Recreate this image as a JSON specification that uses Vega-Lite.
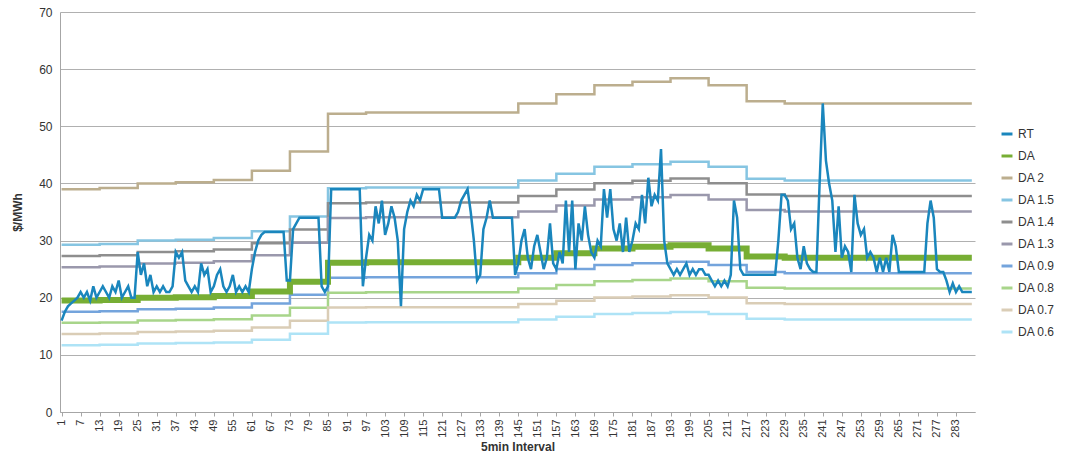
{
  "$schema": "https://vega.github.io/schema/vega-lite/v6.json",
  "width": 915,
  "height": 400,
  "autosize": "none",
  "padding": {"left": 60, "top": 12, "right": 104, "bottom": 55},
  "config": {
    "font": "Liberation Sans",
    "view": {"stroke": null},
    "axis": {"domainColor": "#a6a6a6", "tickColor": "#a6a6a6", "gridColor": "#b0b0b0", "labelColor": "#333", "labelFontSize": 12, "titleFontSize": 12, "titleFontWeight": "bold", "titleColor": "#333"}
  },
  "datasets": {
    "rt": [
      {"x":1,"RT":16},{"x":2,"RT":17.5},{"x":3,"RT":18.5},{"x":4,"RT":19},{"x":5,"RT":19.5},{"x":6,"RT":20},{"x":7,"RT":21},{"x":8,"RT":20},{"x":9,"RT":21},{"x":10,"RT":19.5},{"x":11,"RT":22},{"x":12,"RT":20},
      {"x":13,"RT":21},{"x":14,"RT":22},{"x":15,"RT":21},{"x":16,"RT":20},{"x":17,"RT":22},{"x":18,"RT":21},{"x":19,"RT":23},{"x":20,"RT":20},{"x":21,"RT":21},{"x":22,"RT":22},{"x":23,"RT":20},{"x":24,"RT":20},
      {"x":25,"RT":28},{"x":26,"RT":24},{"x":27,"RT":26},{"x":28,"RT":22},{"x":29,"RT":24},{"x":30,"RT":21},{"x":31,"RT":22},{"x":32,"RT":21},{"x":33,"RT":22},{"x":34,"RT":21},{"x":35,"RT":21},{"x":36,"RT":22},
      {"x":37,"RT":28},{"x":38,"RT":27},{"x":39,"RT":28},{"x":40,"RT":23},{"x":41,"RT":22},{"x":42,"RT":21},{"x":43,"RT":22},{"x":44,"RT":21},{"x":45,"RT":26},{"x":46,"RT":24},{"x":47,"RT":25},{"x":48,"RT":21},
      {"x":49,"RT":22},{"x":50,"RT":24},{"x":51,"RT":25},{"x":52,"RT":22},{"x":53,"RT":21},{"x":54,"RT":22},{"x":55,"RT":24},{"x":56,"RT":21},{"x":57,"RT":22},{"x":58,"RT":21},{"x":59,"RT":22},{"x":60,"RT":21},
      {"x":61,"RT":25},{"x":62,"RT":28},{"x":63,"RT":30},{"x":64,"RT":31},{"x":65,"RT":31.5},{"x":66,"RT":31.5},{"x":67,"RT":31.5},{"x":68,"RT":31.5},{"x":69,"RT":31.5},{"x":70,"RT":31.5},{"x":71,"RT":31.5},{"x":72,"RT":23},
      {"x":73,"RT":23},{"x":74,"RT":32},{"x":75,"RT":33},{"x":76,"RT":34},{"x":77,"RT":34},{"x":78,"RT":34},{"x":79,"RT":34},{"x":80,"RT":34},{"x":81,"RT":34},{"x":82,"RT":34},{"x":83,"RT":22},{"x":84,"RT":21},
      {"x":85,"RT":22},{"x":86,"RT":39},{"x":87,"RT":39},{"x":88,"RT":39},{"x":89,"RT":39},{"x":90,"RT":39},{"x":91,"RT":39},{"x":92,"RT":39},{"x":93,"RT":39},{"x":94,"RT":39},{"x":95,"RT":39},{"x":96,"RT":22},
      {"x":97,"RT":27},{"x":98,"RT":31},{"x":99,"RT":30},{"x":100,"RT":36},{"x":101,"RT":33},{"x":102,"RT":37},{"x":103,"RT":31},{"x":104,"RT":33},{"x":105,"RT":36},{"x":106,"RT":34},{"x":107,"RT":30},{"x":108,"RT":18.5},
      {"x":109,"RT":32},{"x":110,"RT":35},{"x":111,"RT":37},{"x":112,"RT":36},{"x":113,"RT":38},{"x":114,"RT":37},{"x":115,"RT":39},{"x":116,"RT":39},{"x":117,"RT":39},{"x":118,"RT":39},{"x":119,"RT":39},{"x":120,"RT":39},
      {"x":121,"RT":34},{"x":122,"RT":34},{"x":123,"RT":34},{"x":124,"RT":34},{"x":125,"RT":34},{"x":126,"RT":35},{"x":127,"RT":37},{"x":128,"RT":38},{"x":129,"RT":39},{"x":130,"RT":35},{"x":131,"RT":30},{"x":132,"RT":23},
      {"x":133,"RT":24},{"x":134,"RT":32},{"x":135,"RT":34},{"x":136,"RT":37},{"x":137,"RT":34},{"x":138,"RT":34},{"x":139,"RT":34},{"x":140,"RT":34},{"x":141,"RT":34},{"x":142,"RT":34},{"x":143,"RT":34},{"x":144,"RT":24},
      {"x":145,"RT":26},{"x":146,"RT":30},{"x":147,"RT":32},{"x":148,"RT":27},{"x":149,"RT":25},{"x":150,"RT":29},{"x":151,"RT":31},{"x":152,"RT":28},{"x":153,"RT":25},{"x":154,"RT":27},{"x":155,"RT":33},{"x":156,"RT":26},
      {"x":157,"RT":25},{"x":158,"RT":28},{"x":159,"RT":26},{"x":160,"RT":37},{"x":161,"RT":28},{"x":162,"RT":37},{"x":163,"RT":25},{"x":164,"RT":33},{"x":165,"RT":30},{"x":166,"RT":36},{"x":167,"RT":31},{"x":168,"RT":28},
      {"x":169,"RT":27},{"x":170,"RT":30},{"x":171,"RT":29},{"x":172,"RT":39},{"x":173,"RT":34},{"x":174,"RT":39},{"x":175,"RT":32},{"x":176,"RT":30},{"x":177,"RT":33},{"x":178,"RT":28},{"x":179,"RT":34},{"x":180,"RT":28},
      {"x":181,"RT":30},{"x":182,"RT":33},{"x":183,"RT":32},{"x":184,"RT":38},{"x":185,"RT":33},{"x":186,"RT":41},{"x":187,"RT":36},{"x":188,"RT":38},{"x":189,"RT":37},{"x":190,"RT":46},{"x":191,"RT":30},{"x":192,"RT":26},
      {"x":193,"RT":25},{"x":194,"RT":24},{"x":195,"RT":25},{"x":196,"RT":24},{"x":197,"RT":25},{"x":198,"RT":26},{"x":199,"RT":24},{"x":200,"RT":25},{"x":201,"RT":24},{"x":202,"RT":25},{"x":203,"RT":25},{"x":204,"RT":24},
      {"x":205,"RT":24},{"x":206,"RT":23},{"x":207,"RT":22},{"x":208,"RT":23},{"x":209,"RT":22},{"x":210,"RT":23},{"x":211,"RT":22},{"x":212,"RT":24},{"x":213,"RT":37},{"x":214,"RT":34},{"x":215,"RT":25},{"x":216,"RT":24},
      {"x":217,"RT":24},{"x":218,"RT":24},{"x":219,"RT":24},{"x":220,"RT":24},{"x":221,"RT":24},{"x":222,"RT":24},{"x":223,"RT":24},{"x":224,"RT":24},{"x":225,"RT":24},{"x":226,"RT":24},{"x":227,"RT":30},{"x":228,"RT":38},
      {"x":229,"RT":38},{"x":230,"RT":37},{"x":231,"RT":32},{"x":232,"RT":33},{"x":233,"RT":27},{"x":234,"RT":25},{"x":235,"RT":29},{"x":236,"RT":26},{"x":237,"RT":25},{"x":238,"RT":24.5},{"x":239,"RT":24.5},{"x":240,"RT":40},
      {"x":241,"RT":54},{"x":242,"RT":44},{"x":243,"RT":40},{"x":244,"RT":37},{"x":245,"RT":28},{"x":246,"RT":36},{"x":247,"RT":27},{"x":248,"RT":29},{"x":249,"RT":28},{"x":250,"RT":24.5},{"x":251,"RT":38},{"x":252,"RT":33},
      {"x":253,"RT":31},{"x":254,"RT":32},{"x":255,"RT":27},{"x":256,"RT":28},{"x":257,"RT":27},{"x":258,"RT":24.5},{"x":259,"RT":27},{"x":260,"RT":24.5},{"x":261,"RT":27},{"x":262,"RT":24.5},{"x":263,"RT":31},{"x":264,"RT":29},
      {"x":265,"RT":24.5},{"x":266,"RT":24.5},{"x":267,"RT":24.5},{"x":268,"RT":24.5},{"x":269,"RT":24.5},{"x":270,"RT":24.5},{"x":271,"RT":24.5},{"x":272,"RT":24.5},{"x":273,"RT":24.5},{"x":274,"RT":33},{"x":275,"RT":37},{"x":276,"RT":34},
      {"x":277,"RT":25},{"x":278,"RT":24.5},{"x":279,"RT":24.5},{"x":280,"RT":23},{"x":281,"RT":21},{"x":282,"RT":22.5},{"x":283,"RT":21},{"x":284,"RT":22},{"x":285,"RT":21},{"x":286,"RT":21},{"x":287,"RT":21},{"x":288,"RT":21}
    ],
    "da": [
      {"x":1,"DA":19.5,"D2":39,"D15":29.25,"D14":27.3,"D13":25.35,"D09":17.55,"D08":15.6,"D07":13.65,"D06":11.7},
      {"x":13,"DA":19.6,"D2":39.2,"D15":29.4,"D14":27.44,"D13":25.48,"D09":17.64,"D08":15.68,"D07":13.72,"D06":11.76},
      {"x":25,"DA":20,"D2":40,"D15":30,"D14":28,"D13":26,"D09":18,"D08":16,"D07":14,"D06":12},
      {"x":37,"DA":20.1,"D2":40.2,"D15":30.15,"D14":28.14,"D13":26.13,"D09":18.09,"D08":16.08,"D07":14.07,"D06":12.06},
      {"x":49,"DA":20.3,"D2":40.6,"D15":30.45,"D14":28.42,"D13":26.39,"D09":18.27,"D08":16.24,"D07":14.21,"D06":12.18},
      {"x":61,"DA":21.1,"D2":42.2,"D15":31.65,"D14":29.54,"D13":27.43,"D09":18.99,"D08":16.88,"D07":14.77,"D06":12.66},
      {"x":73,"DA":22.8,"D2":45.6,"D15":34.2,"D14":31.92,"D13":29.64,"D09":20.52,"D08":18.24,"D07":15.96,"D06":13.68},
      {"x":85,"DA":26.1,"D2":52.2,"D15":39.15,"D14":36.54,"D13":33.93,"D09":23.49,"D08":20.88,"D07":18.27,"D06":15.66},
      {"x":97,"DA":26.2,"D2":52.4,"D15":39.3,"D14":36.68,"D13":34.06,"D09":23.58,"D08":20.96,"D07":18.34,"D06":15.72},
      {"x":109,"DA":26.2,"D2":52.4,"D15":39.3,"D14":36.68,"D13":34.06,"D09":23.58,"D08":20.96,"D07":18.34,"D06":15.72},
      {"x":121,"DA":26.2,"D2":52.4,"D15":39.3,"D14":36.68,"D13":34.06,"D09":23.58,"D08":20.96,"D07":18.34,"D06":15.72},
      {"x":133,"DA":26.2,"D2":52.4,"D15":39.3,"D14":36.68,"D13":34.06,"D09":23.58,"D08":20.96,"D07":18.34,"D06":15.72},
      {"x":145,"DA":27,"D2":54,"D15":40.5,"D14":37.8,"D13":35.1,"D09":24.3,"D08":21.6,"D07":18.9,"D06":16.2},
      {"x":157,"DA":27.8,"D2":55.6,"D15":41.7,"D14":38.92,"D13":36.14,"D09":25.02,"D08":22.24,"D07":19.46,"D06":16.68},
      {"x":169,"DA":28.6,"D2":57.2,"D15":42.9,"D14":40.04,"D13":37.18,"D09":25.74,"D08":22.88,"D07":20.02,"D06":17.16},
      {"x":181,"DA":28.9,"D2":57.8,"D15":43.35,"D14":40.46,"D13":37.57,"D09":26.01,"D08":23.12,"D07":20.23,"D06":17.34},
      {"x":193,"DA":29.2,"D2":58.4,"D15":43.8,"D14":40.88,"D13":37.96,"D09":26.28,"D08":23.36,"D07":20.44,"D06":17.52},
      {"x":205,"DA":28.6,"D2":57.2,"D15":42.9,"D14":40.04,"D13":37.18,"D09":25.74,"D08":22.88,"D07":20.02,"D06":17.16},
      {"x":217,"DA":27.2,"D2":54.4,"D15":40.8,"D14":38.08,"D13":35.36,"D09":24.48,"D08":21.76,"D07":19.04,"D06":16.32},
      {"x":229,"DA":27,"D2":54,"D15":40.5,"D14":37.8,"D13":35.1,"D09":24.3,"D08":21.6,"D07":18.9,"D06":16.2},
      {"x":241,"DA":27,"D2":54,"D15":40.5,"D14":37.8,"D13":35.1,"D09":24.3,"D08":21.6,"D07":18.9,"D06":16.2},
      {"x":253,"DA":27,"D2":54,"D15":40.5,"D14":37.8,"D13":35.1,"D09":24.3,"D08":21.6,"D07":18.9,"D06":16.2},
      {"x":265,"DA":27,"D2":54,"D15":40.5,"D14":37.8,"D13":35.1,"D09":24.3,"D08":21.6,"D07":18.9,"D06":16.2},
      {"x":277,"DA":27,"D2":54,"D15":40.5,"D14":37.8,"D13":35.1,"D09":24.3,"D08":21.6,"D07":18.9,"D06":16.2},
      {"x":288,"DA":27,"D2":54,"D15":40.5,"D14":37.8,"D13":35.1,"D09":24.3,"D08":21.6,"D07":18.9,"D06":16.2}
    ]
  },
  "encoding": {
    "x": {
      "field": "x", "type": "quantitative", "title": "5min Interval",
      "scale": {"domain": [0.5, 289], "nice": false, "zero": false},
      "axis": {"values": [1,7,13,19,25,31,37,43,49,55,61,67,73,79,85,91,97,103,109,115,121,127,133,139,145,151,157,163,169,175,181,187,193,199,205,211,217,223,229,235,241,247,253,259,265,271,277,283], "labelAngle": -90, "labelFontSize": 11, "labelPadding": 3, "tickSize": 4, "grid": false, "titlePadding": 4}
    },
    "y": {
      "field": "value", "type": "quantitative", "title": "$/MWh",
      "scale": {"domain": [0, 70], "nice": false},
      "axis": {"values": [0,10,20,30,40,50,60,70], "tickSize": 0, "labelPadding": 8, "titlePadding": 14, "domain": true}
    },
    "color": {
      "field": "series", "type": "nominal", "title": null,
      "scale": {
        "domain": ["RT","DA","D2","D15","D14","D13","D09","D08","D07","D06"],
        "range": ["#1a86bd","#77ae34","#bcae8e","#86c5e2","#8e8e8e","#9a98ac","#74a4dc","#a8d58a","#dacdb6","#aee3f6"]
      },
      "legend": {
        "orient": "none", "legendX": 940, "legendY": 115, "symbolType": "stroke", "symbolSize": 120,
        "labelFontSize": 12, "labelColor": "#333", "rowPadding": 9, "symbolStrokeWidth": 3,
        "labelExpr": "{'RT':'RT','DA':'DA','D2':'DA 2','D15':'DA 1.5','D14':'DA 1.4','D13':'DA 1.3','D09':'DA 0.9','D08':'DA 0.8','D07':'DA 0.7','D06':'DA 0.6'}[datum.label]"
      }
    }
  },
  "layer": [
    {
      "data": {"name": "da"},
      "transform": [{"fold": ["D2","D15","D14","D13","D09","D08","D07","D06"], "as": ["series","value"]}],
      "mark": {"type": "line", "interpolate": "step-after", "strokeWidth": 2.5}
    },
    {
      "data": {"name": "da"},
      "transform": [{"fold": ["DA"], "as": ["series","value"]}],
      "mark": {"type": "line", "interpolate": "step-after", "strokeWidth": 6}
    },
    {
      "data": {"name": "rt"},
      "transform": [{"fold": ["RT"], "as": ["series","value"]}],
      "mark": {"type": "line", "strokeWidth": 2.5}
    }
  ]
}
